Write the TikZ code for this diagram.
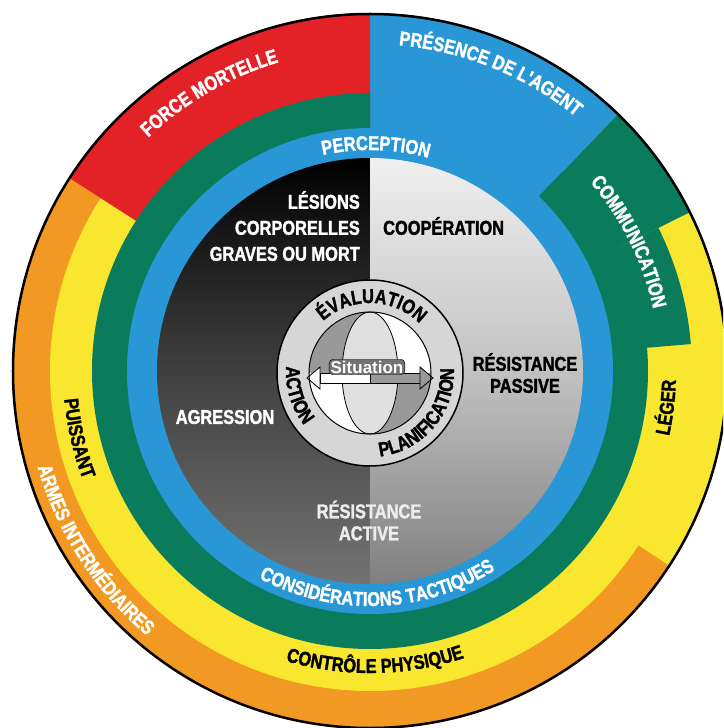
\documentclass[tikz,border=0pt]{standalone}
\usepackage{fontspec}
\newfontfamily\capsfont{Liberation Sans}[FakeStretch=0.82, BoldFeatures={FakeBold=1.6}]
\usepackage{tikz}
\usetikzlibrary{decorations.text}

\definecolor{forcered}{RGB}{226,34,39}
\definecolor{presblue}{RGB}{41,151,214}
\definecolor{commgreen}{RGB}{10,124,92}
\definecolor{legyellow}{RGB}{248,231,46}
\definecolor{armorange}{RGB}{241,153,34}
\definecolor{badgegray}{RGB}{214,214,214}

\tikzstyle{core label} = [inner sep=0pt, font=\capsfont\bfseries\fontsize{20}{26}\selectfont]
\tikzstyle{pair label} = [inner sep=0pt, align=center, font=\capsfont\bfseries\fontsize{20}{22}\selectfont]
\newcommand{\bandfont}{\capsfont\bfseries\fontsize{20}{22}\selectfont}

% curved text: radius, start angle, end angle, format, text
\newcommand{\arclabel}[5]{%
  \path[decorate, decoration={text along path, text align=center, text={|#4|#5}}]
    (#2:#1) arc[start angle=#2, end angle=#3, radius=#1];}

\begin{document}
\begin{tikzpicture}[x=1pt, y=1pt]
  \useasboundingbox (-370,-357) rectangle (353,371);
  \clip (-370,-357) rectangle (353,371);

  %outer rings
  \fill[armorange] (0,0) circle (358);
  \fill[legyellow] (0,0) circle (320);
  \fill[legyellow] (0,0) -- (-33:358) arc[start angle=-33, end angle=26.4, radius=358] -- cycle;
  \fill[commgreen] (0,0) -- (4.8:322) arc[start angle=4.8, end angle=26.4, radius=322] -- cycle;
  \fill[commgreen] (0,0) -- (26.4:358) arc[start angle=26.4, end angle=46, radius=358] -- cycle;
  \fill[presblue] (0,0) -- (46:358) arc[start angle=46, end angle=90, radius=358] -- cycle;
  \fill[forcered] (0,0) -- (90:358) arc[start angle=90, end angle=147.3, radius=358] -- cycle;
  \fill[commgreen] (0,0) -- (90:278) arc[start angle=90, end angle=406, radius=278] -- cycle;
  \fill[presblue] (0,0) circle (243);

  %grey core
  \shade[top color=black, bottom color=black!55, middle color=black!75]
    (0,0) -- (90:213) arc[start angle=90, end angle=270, radius=213] -- cycle;
  \shade[top color=black!6, bottom color=black!50, middle color=black!24]
    (0,0) -- (-90:213) arc[start angle=-90, end angle=90, radius=213] -- cycle;

  \draw[line width=2.5pt] (0,0) circle (357);

  %ring texts
  \arclabel{322}{160}{80}{\bandfont\color{white}}{FORCE MORTELLE}
  \arclabel{327}{108}{28}{\bandfont\color{white}}{PRÉSENCE DE L'AGENT}
  \arclabel{221}{128.5}{48.5}{\bandfont\color{white}}{PERCEPTION}
  \arclabel{290}{66.5}{-13.5}{\bandfont\color{white}}{COMMUNICATION}
  \arclabel{306}{-47}{33}{\bandfont\color{black}}{LÉGER}
  \arclabel{307}{153}{233}{\bandfont\color{black}}{PUISSANT}
  \arclabel{346}{153}{273}{\bandfont\color{white}}{ARMES INTERMÉDIAIRES}
  \arclabel{302}{221}{321}{\bandfont\color{black}}{CONTRÔLE PHYSIQUE}
  \arclabel{235}{212}{332}{\bandfont\color{white}}{CONSIDÉRATIONS TACTIQUES}

  %core texts
  \node[core label, text=white, align=right, anchor=east] (lesions) at (-10,145) {LÉSIONS\\CORPORELLES\\GRAVES OU MORT};
  \node[core label, anchor=west] (cooperation) at (13,145) {COOPÉRATION};
  \node[pair label] (passive) at (155,-2) {RÉSISTANCE\\PASSIVE};
  \node[core label, text=white] (agression) at (-145,-46) {AGRESSION};
  \node[pair label, text=black!7] (active) at (-1,-149.5) {RÉSISTANCE\\ACTIVE};

  %central badge
  \begin{scope}[yshift=-2]
    \filldraw[fill=badgegray, line width=1.5pt] (0,0) circle (93);
    \fill[white] (0,0) circle (61);
    \fill[black!40] (0,0) -- (90:61) arc[start angle=90, end angle=180, radius=61] -- cycle;
    \fill[black!40] (0,0) -- (270:61) arc[start angle=270, end angle=360, radius=61] -- cycle;
    \filldraw[fill=black!12, draw=black, line width=0.8pt] (0,0) ellipse (28 and 61);
    \filldraw[fill=white, line width=0.8pt] (-50,0) -- (0,0) -- (0,-10) -- (-50,-10) -- cycle;
    \filldraw[fill=black!40, line width=0.8pt] (0,0) -- (50,0) -- (50,-10) -- (0,-10) -- cycle;
    \filldraw[fill=white, line width=0.8pt] (-63,-5) -- (-50,6) -- (-50,-16) -- cycle;
    \filldraw[fill=black!40, line width=0.8pt] (63,-5) -- (50,6) -- (50,-16) -- cycle;
    \draw[line width=1pt] (0,0) circle (61);
    \node[draw=black, fill=black!55, rounded corners=4pt, text=white, inner sep=1.5pt,
      font=\fontspec{Liberation Sans}\bfseries\fontsize{17}{17}\selectfont] (situation) at (-3,6) {Situation};
    \arclabel{70}{178.5}{-1.5}{\bandfont\color{black}}{ÉVALUATION}
    \arclabel{84}{260}{380}{\bandfont\color{black}}{PLANIFICATION}
    \arclabel{84}{150}{244}{\bandfont\color{black}}{ACTION}
  \end{scope}
\end{tikzpicture}
\end{document}
